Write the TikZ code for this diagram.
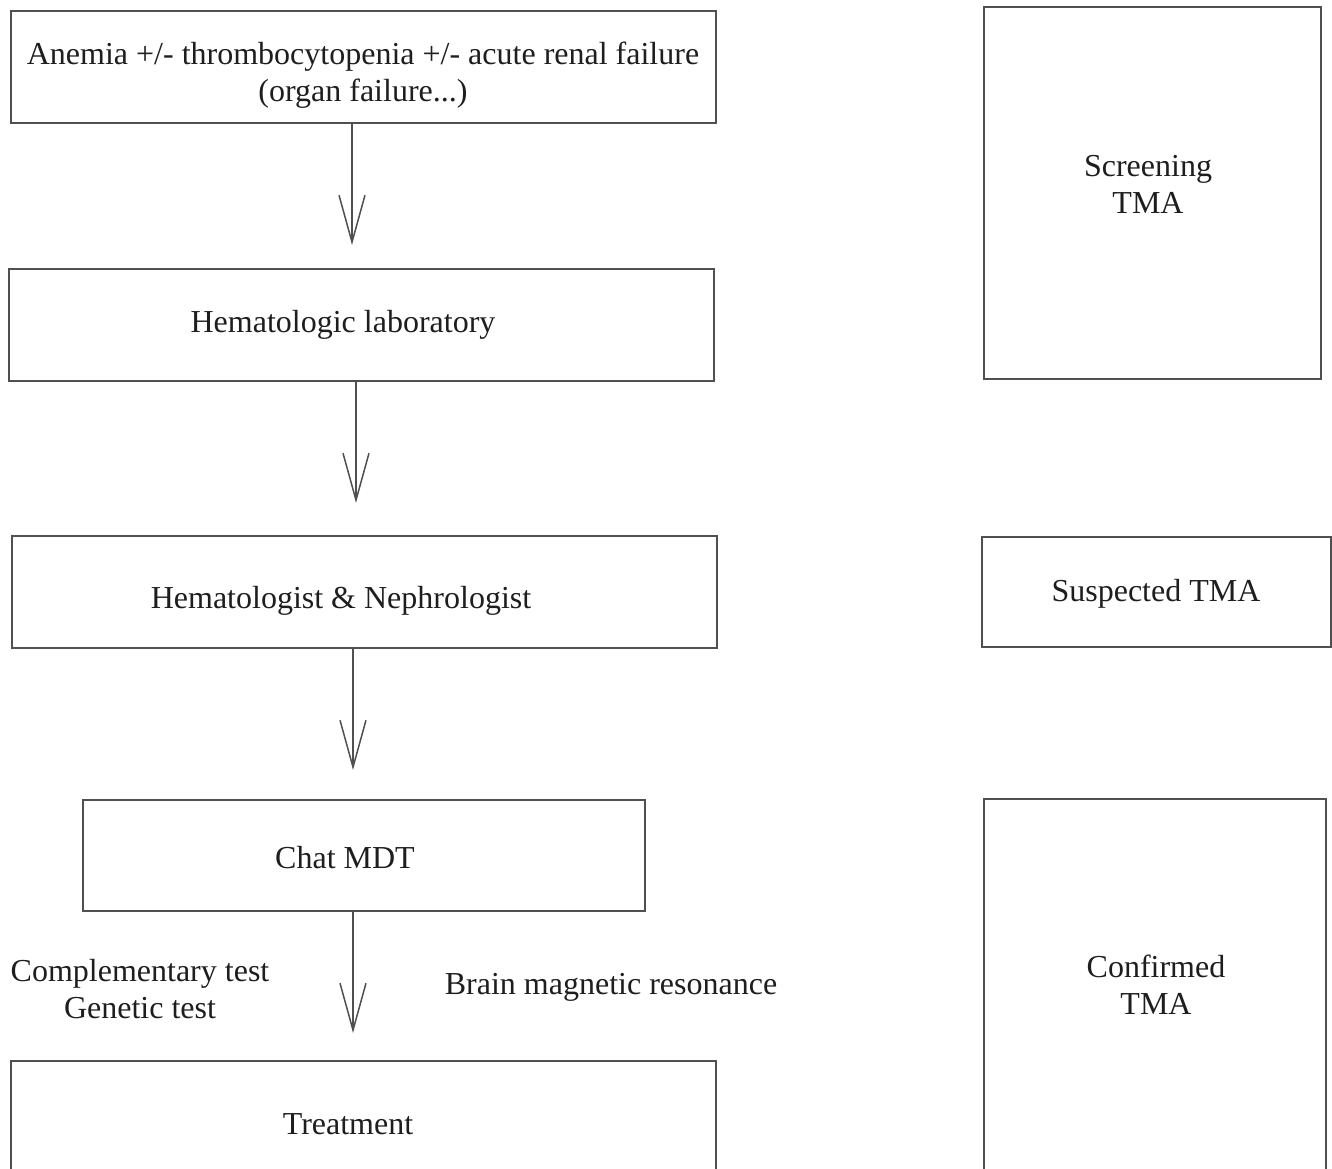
\documentclass[tikz,border=0pt]{standalone}
\usepackage{fontspec}
\setmainfont{Liberation Serif}
\usetikzlibrary{arrows.meta}
\definecolor{linec}{HTML}{505050}
\definecolor{textc}{HTML}{1E1E1E}
\tikzset{
  box/.style={draw=linec, line width=1.5pt, rectangle, inner sep=0pt},
  txt/.style={text=textc, font=\fontsize{32}{36.5}\selectfont, align=center, inner sep=0pt, anchor=base},
  arr/.style={draw=linec, line width=1.5pt, -{Straight Barb[length=47pt,width=26pt,line width=1.5pt]}}
}
\begin{document}
\begin{tikzpicture}[x=1pt,y=-1pt]
\path[use as bounding box] (0,0) rectangle (1332,1168);
\clip (0,0) rectangle (1332,1168);
% left column boxes
\node[box, minimum width=705pt, minimum height=112pt] (b1) at (363.5,67) {};
\node[box, minimum width=705pt, minimum height=112pt] (b2) at (361.5,325) {};
\node[box, minimum width=705pt, minimum height=112pt] (b3) at (364.5,592) {};
\node[box, minimum width=562pt, minimum height=111pt] (b4) at (364,855.5) {};
\node[box, minimum width=705pt, minimum height=139pt] (b5) at (363.5,1130.5) {};
% right column boxes
\node[box, minimum width=337pt, minimum height=372pt] (r1) at (1152.5,193) {};
\node[box, minimum width=349pt, minimum height=110pt] (r2) at (1156.5,592) {};
\node[box, minimum width=342pt, minimum height=401pt] (r3) at (1155,999.5) {};
% texts (positions are baselines of the last line)
\node[txt] (t1) at (363,101) {Anemia +/- thrombocytopenia +/- acute renal failure\\(organ failure...)};
\node[txt] (t2) at (343,332) {Hematologic laboratory};
\node[txt] (t3) at (341,608) {Hematologist \& Nephrologist};
\node[txt] (t4) at (345,868) {Chat MDT};
\node[txt] (t5) at (348,1134) {Treatment};
\node[txt] (l1) at (140,1018) {Complementary test\\Genetic test};
\node[txt] (l2) at (611,994) {Brain magnetic resonance};
\node[txt] (s1) at (1148,213) {Screening\\TMA};
\node[txt] (s2) at (1156,601) {Suspected TMA};
\node[txt] (s3) at (1156,1014) {Confirmed\\TMA};
% arrows
\coordinate (e1) at (352,245);
\coordinate (e2) at (356,503);
\coordinate (e3) at (353,770);
\coordinate (e4) at (353,1033);
\draw[arr] (b1.south -| e1) -- (e1);
\draw[arr] (b2.south -| e2) -- (e2);
\draw[arr] (b3.south -| e3) -- (e3);
\draw[arr] (b4.south -| e4) -- (e4);
\end{tikzpicture}
\end{document}
